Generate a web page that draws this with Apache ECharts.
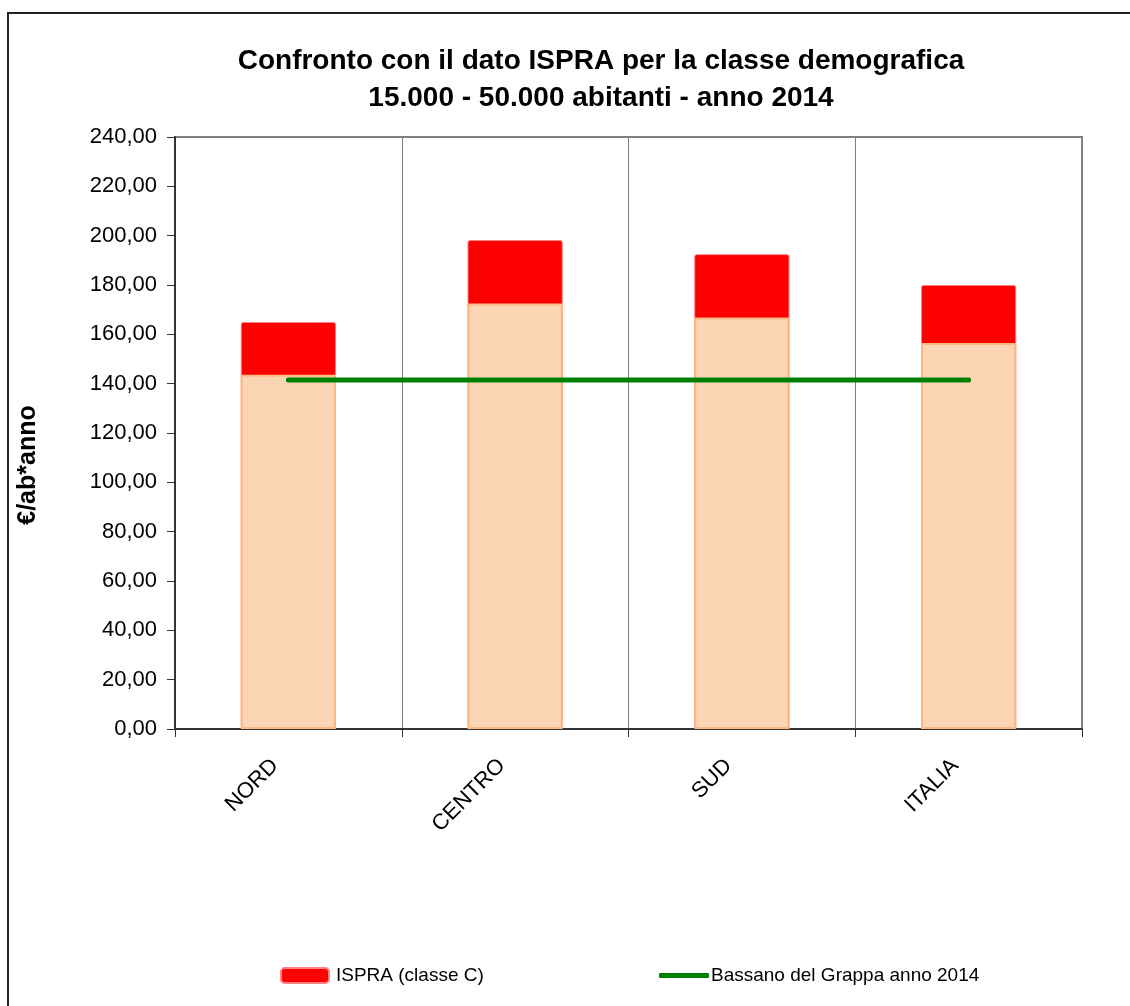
<!DOCTYPE html>
<html>
<head>
<meta charset="utf-8">
<script src="https://cdn.jsdelivr.net/npm/echarts@6/dist/echarts.min.js"></script>
<style>
html,body{margin:0;padding:0;background:#fff;}
#chart{width:1130px;height:1006px;}
</style>
</head>
<body>
<div id="chart"></div>
<script>
var categories = ['NORD', 'CENTRO', 'SUD', 'ITALIA'];
var ispraValues = [165.0, 198.2, 192.5, 180.0];
var baseValues = [143.6, 172.5, 166.8, 156.5];
var bassanoValues = [141.5, 141.5, 141.5, 141.5];
var yTicks = { min: 0, max: 240, interval: 20 };

var chart = echarts.init(document.getElementById('chart'));
var font = 'Liberation Sans, Arial, sans-serif';
chart.setOption({
  animation: false,
  backgroundColor: '#ffffff',
  title: {
    text: 'Confronto con il dato ISPRA per la classe demografica\n15.000 - 50.000 abitanti - anno 2014',
    left: 596, top: 38, textAlign: 'center',
    textStyle: { fontFamily: font, fontSize: 28, fontWeight: 'bold', color: '#000', lineHeight: 37 }
  },
  legend: [{
    data: [{ name: 'ISPRA (classe C)', icon: 'roundRect' }],
    left: 275, top: 961, itemWidth: 48, itemHeight: 15, itemGap: 4,
    textStyle: { fontFamily: font, fontSize: 19, color: '#000', padding: [0, 0, 0, 2] }
  }, {
    data: [{ name: 'Bassano del Grappa anno 2014', icon: 'roundRect' }],
    left: 654, top: 961, itemWidth: 50, itemHeight: 5,
    textStyle: { fontFamily: font, fontSize: 19, color: '#000', padding: [0, 0, 0, -3] }
  }],
  grid: { left: 175, right: 48, top: 137, bottom: 277, show: true, borderColor: '#808080', borderWidth: 2, backgroundColor: 'transparent' },
  graphic: [
    { type: 'rect', shape: { x: 8, y: 13, width: 1200, height: 1100 }, style: { fill: 'none', stroke: '#222', lineWidth: 2 }, silent: true, z: -10 },
    { type: 'text', x: 28, y: 465, rotation: Math.PI / 2,
      style: { text: '€/ab*anno', font: 'bold 25px ' + font, fill: '#000', textAlign: 'center', textVerticalAlign: 'middle' } }
  ],
  xAxis: {
    type: 'category', data: categories, boundaryGap: true,
    axisLine: { lineStyle: { color: '#333', width: 2 } },
    axisTick: { show: true, length: 8, inside: false, lineStyle: { color: '#333', width: 1 } },
    splitLine: { show: true, lineStyle: { color: '#808080', width: 1 } },
    axisLabel: { rotate: 45, fontFamily: font, fontSize: 22, color: '#000', margin: 20, interval: 0, padding: [0, 19, 0, 0] }
  },
  yAxis: {
    type: 'value', min: yTicks.min, max: yTicks.max, interval: yTicks.interval,
    axisLine: { show: true, lineStyle: { color: '#333', width: 2 } },
    axisTick: { show: true, length: 8, lineStyle: { color: '#333', width: 1 } },
    splitLine: { show: false },
    axisLabel: { fontFamily: font, fontSize: 22, color: '#000', margin: 18,
      formatter: function (v) { return v.toFixed(2).replace('.', ','); } }
  },
  series: [{
    name: 'ISPRA (classe C)', type: 'bar', data: ispraValues, barWidth: '42%', barGap: '-100%',
    itemStyle: { color: '#ff0000', borderColor: '#ff8080', borderWidth: 1, borderRadius: 2 }, z: 2
  }, {
    name: 'base', type: 'bar', data: baseValues, barWidth: '42%', barGap: '-100%',
    itemStyle: { color: '#fcd5b4', borderColor: '#fbb986', borderWidth: 2 }, z: 3
  }, {
    name: 'Bassano del Grappa anno 2014', type: 'line', data: bassanoValues,
    symbol: 'none', lineStyle: { color: '#008000', width: 5, cap: 'round' },
    itemStyle: { color: '#008000' }, z: 5
  }]
});
</script>
</body>
</html>
